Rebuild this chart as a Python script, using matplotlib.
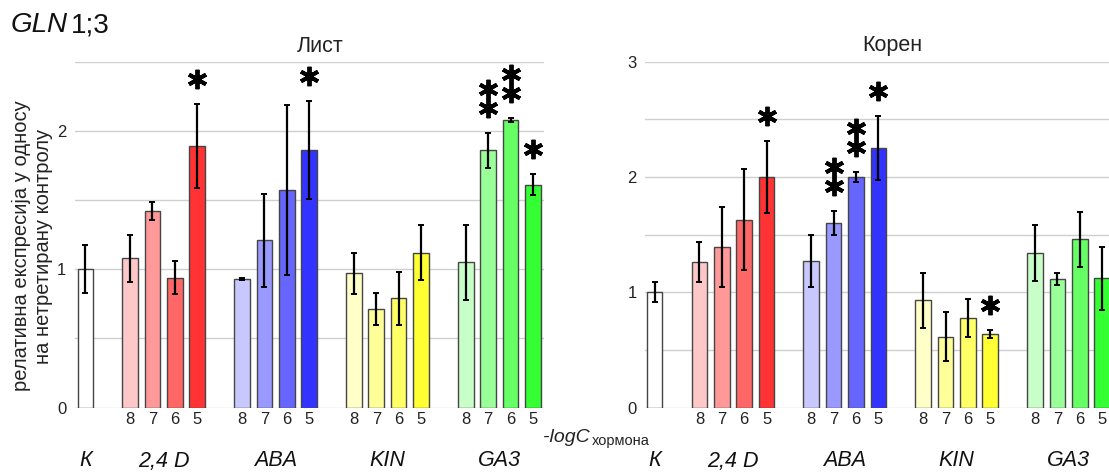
import matplotlib
matplotlib.use("Agg")
import matplotlib.pyplot as plt
from matplotlib.transforms import offset_copy
import numpy as np

plt.rcParams['font.family'] = ['Liberation Sans', 'DejaVu Sans']

# data
groups = ['К', '2,4 D', 'ABA', 'KIN', 'GA3']
conc = ['8', '7', '6', '5']

leaf_mean = [1.00, 1.08, 1.42, 0.94, 1.89, 0.93, 1.21, 1.57, 1.86,
             0.97, 0.71, 0.79, 1.12, 1.05, 1.86, 2.08, 1.61]
leaf_err = [0.175, 0.17, 0.065, 0.12, 0.305, 0.01, 0.335, 0.615, 0.355,
            0.15, 0.115, 0.19, 0.20, 0.27, 0.125, 0.015, 0.075]
leaf_stars = [0, 0, 0, 0, 1, 0, 0, 0, 1, 0, 0, 0, 0, 0, 2, 2, 1]

root_mean = [1.00, 1.26, 1.39, 1.63, 2.00, 1.27, 1.60, 2.00, 2.25,
             0.93, 0.615, 0.78, 0.64, 1.34, 1.115, 1.46, 1.12]
root_err = [0.088, 0.175, 0.347, 0.44, 0.315, 0.227, 0.107, 0.045, 0.275,
            0.24, 0.215, 0.165, 0.037, 0.243, 0.055, 0.24, 0.275]
root_stars = [0, 0, 0, 0, 1, 0, 2, 2, 1, 0, 0, 0, 1, 0, 0, 0, 0]

colors = ['#ffffff',
          '#ffc8c8', '#ff9999', '#ff6666', '#ff3333',
          '#c8c8ff', '#9999ff', '#6666ff', '#3333ff',
          '#ffffc8', '#ffff99', '#ffff66', '#ffff33',
          '#c8ffc8', '#99ff99', '#66ff66', '#33ff33']

# K at 0, then four groups of four bars with one empty slot between
pos = [0] + [2 + 5 * g + j for g in range(4) for j in range(4)]
group_centers = [0] + [3.5 + 5 * g for g in range(4)]

fig = plt.figure(figsize=(11.09, 4.72), dpi=100)
W, H = 1109, 472


def panel(left_px, xmin, ymax, mean, err, stars, title, title_x):
    bottom = (H - 407.6) / H
    height = (407.6 - 61.7) / H
    ax = fig.add_axes([left_px / W, bottom, 469.5 / W, height])
    ax.set_xlim(xmin, xmin + 469.5 / 22.38)
    ax.set_ylim(0, ymax)
    ax.bar(pos, mean, width=0.7, color=colors, edgecolor='#454545',
           linewidth=1.0, zorder=3)
    ax.errorbar(pos, mean, yerr=err, fmt='none', ecolor='black',
                elinewidth=1.6, capsize=2, capthick=1.4, zorder=4)
    yt = np.arange(0, ymax + 0.01, 0.5)
    ax.set_yticks(yt)
    ax.set_yticklabels([str(int(v)) if v == int(v) else '' for v in yt],
                       fontsize=12, color='#222222')
    ax.set_xticks(pos[1:])
    ax.set_xticklabels(conc * 4, fontsize=12, color='#222222')
    ax.tick_params(length=0, pad=3)
    ax.tick_params(axis='y', pad=6)
    ax.grid(axis='y', color='#cfcfcf', linewidth=1.0, zorder=0)
    for s in ax.spines.values():
        s.set_visible(False)
    ax.set_axisbelow(True)
    for x, m, e, n in zip(pos, mean, err, stars):
        for k in range(n):
            tr = offset_copy(ax.transData, fig=fig, y=25 + 19 * k, units='dots')
            ax.plot(x, m + e, marker=(6, 2, 0), ms=14, mew=2.8, color='black',
                    transform=tr, clip_on=False, zorder=5)
    # group names under the axis
    for gc, name in zip(group_centers, groups):
        xf = fig.transFigure.inverted().transform(ax.transData.transform((gc, 0)))[0]
        fig.text(xf, (H - 461) / H, name, ha='center', va='center',
                 fontsize=15.5, style='italic', color='#111111')
    fig.text(title_x / W, (H - 46) / H, title, ha='center', va='center',
             fontsize=15.5, color='#222222')
    return ax


panel(74.6, -0.48, 2.5, leaf_mean, leaf_err, leaf_stars, 'Лист', 320)
panel(645.0, -0.43, 3.0, root_mean, root_err, root_stars, 'Корен', 892)

fig.text(11 / W, (H - 25) / H, 'GLN', fontsize=20, style='italic',
         ha='left', va='center', color='#111111')
fig.text(71 / W, (H - 25) / H, '1;3', fontsize=20,
         ha='left', va='center', color='#111111')

fig.text(32 / W, (H - 246) / H,
         'релативна експресија у односу\nна нетретирану контролу',
         rotation=90, ha='center', va='center', fontsize=14.5,
         linespacing=1.2, color='#222222')

fig.text(543 / W, (H - 437) / H, '-logC', fontsize=14, style='italic',
         ha='left', va='center', color='#222222')
fig.text(592 / W, (H - 441) / H, 'хормона', fontsize=10.5,
         ha='left', va='center', color='#222222')

fig.savefig('out.png', dpi=100)
